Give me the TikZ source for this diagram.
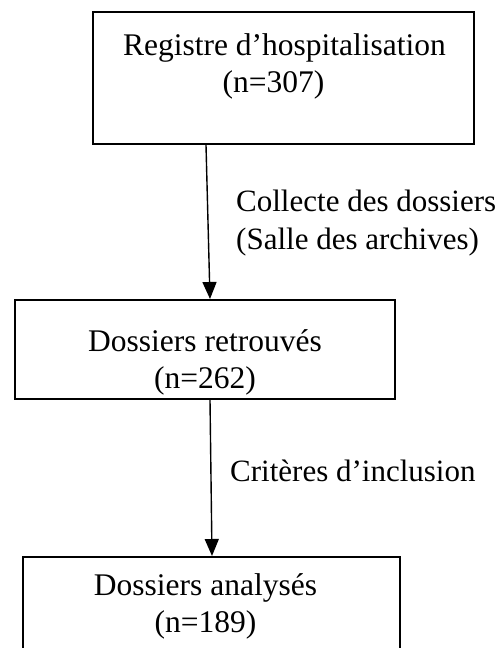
\documentclass[tikz,border=0pt]{standalone}
\usepackage{fontspec}
\setmainfont{Liberation Serif}
\usetikzlibrary{arrows.meta}
\begin{document}
\begin{tikzpicture}[x=1pt,y=1pt,
  frame/.style={draw=black, line width=2pt, rectangle, inner sep=0pt},
  txt/.style={font=\fontsize{31.5}{37}\selectfont, align=center, inner sep=0pt},
  lbl/.style={font=\fontsize{31}{38}\selectfont, align=left, inner sep=0pt, anchor=base west},
  flow/.style={draw=black, line width=1.4pt, -{Triangle[length=17pt,width=14pt]}}]
\useasboundingbox (0,0) rectangle (496,648);
\clip (0,0) rectangle (496,648);
\node[frame, minimum width=381pt, minimum height=132pt] (box1) at (283.5,570) {};
\node[txt] (t1) at (284.5,582) {Registre d’hospitalisation\\(n=307)\hspace*{22pt}};
\node[frame, minimum width=380pt, minimum height=99pt] (box2) at (205,298.5) {};
\node[txt] (t2) at (205,286) {Dossiers retrouvés\\(n=262)};
\node[frame, minimum width=377pt, minimum height=110pt] (box3) at (211.5,36) {};
\node[txt] (t3) at (205.5,42) {Dossiers analysés\\(n=189)};
\node[lbl] (l1) at (236,398) {Collecte des dossiers\\(Salle des archives)};
\node[lbl] (l2) at (230,166) {Critères d’inclusion};
\draw[flow] ([xshift=-77.5pt]box1.south) -- ([xshift=5pt]box2.north);
\draw[flow] ([xshift=5pt]box2.south) -- ([xshift=0.5pt]box3.north);
\end{tikzpicture}
\end{document}
